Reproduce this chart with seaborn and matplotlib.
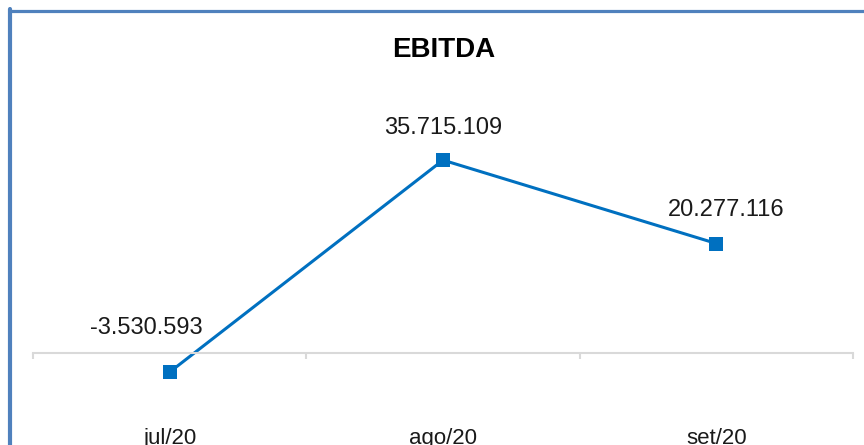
import matplotlib
matplotlib.use('Agg')
import matplotlib.pyplot as plt
import numpy as np
import pandas as pd
import seaborn as sns
from matplotlib.lines import Line2D
from matplotlib.ticker import FixedLocator

months = ['jul/20', 'ago/20', 'set/20']
ebitda = [-3530593, 35715109, 20277116]
label_offsets = [(-17, 32), (0, 23), (7, 24)]


def fmt(v):
    return f'{v:,}'.replace(',', '.')


def plot_ebitda():
    sns.set_style('white')
    plt.rcParams['font.family'] = ['Liberation Sans', 'DejaVu Sans']

    df = pd.DataFrame({'mes': np.arange(len(months)), 'ebitda': ebitda})

    fig = plt.figure(figsize=(8.64, 4.45), dpi=100)
    ax = fig.add_axes([33 / 864, 1 - 400 / 445, 820 / 864, 300 / 445])

    sns.lineplot(data=df, x='mes', y='ebitda', ax=ax, color='#0070C0', linewidth=2.2,
                 marker='s', markersize=10.5, markeredgewidth=0, markerfacecolor='#0070C0')

    for (x, y), (dx, dy) in zip(zip(df['mes'], df['ebitda']), label_offsets):
        ax.annotate(fmt(y), (x, y), xytext=(dx, dy), textcoords='offset points',
                    ha='center', va='center', fontsize=17, color='#1a1a1a')

    ax.set_xlim(-0.5, 2.5)
    ax.set_ylim(-8.70e6, 46.85e6)
    for s in ['top', 'left', 'right']:
        ax.spines[s].set_visible(False)
    ax.spines['bottom'].set_position(('data', 0))
    ax.spines['bottom'].set_color('#D9D9D9')
    ax.spines['bottom'].set_linewidth(1.5)
    ax.set_yticks([])
    ax.set_xticks(range(len(months)))
    ax.set_xticklabels(months, fontsize=16, color='#1a1a1a')
    ax.xaxis.set_minor_locator(FixedLocator([-0.5, 0.5, 1.5, 2.5]))
    ax.tick_params(axis='x', which='major', bottom=True, length=0, pad=54)
    ax.tick_params(axis='x', which='minor', bottom=True, length=4.5, width=1.5,
                   color='#D9D9D9', direction='out')
    ax.set_xlabel('')
    ax.set_ylabel('')
    ax.patch.set_alpha(0)

    fig.text(444 / 864, 1 - 50 / 445, 'EBITDA', ha='center', va='center',
             fontsize=20, fontweight='bold', color='#000000')

    # moldura azul (cantos superior e esquerdo)
    fig.add_artist(Line2D([9.5 / 864, 1], [1 - 10.5 / 445, 1 - 10.5 / 445],
                          color='#4F81BD', linewidth=2.3, transform=fig.transFigure))
    fig.add_artist(Line2D([9.5 / 864, 9.5 / 864], [0, 1 - 9 / 445],
                          color='#4F81BD', linewidth=3, transform=fig.transFigure))

    fig.savefig('out.png', dpi=100)


if __name__ == "__main__":
    plot_ebitda()
